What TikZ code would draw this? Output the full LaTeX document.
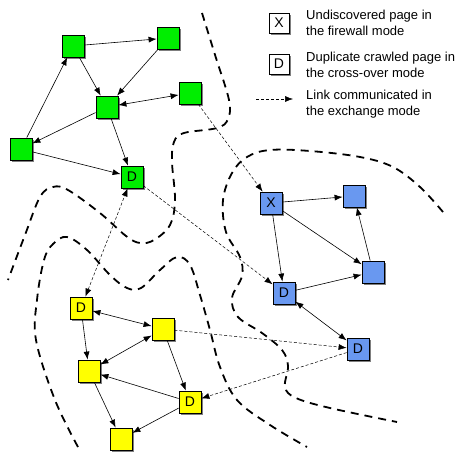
\documentclass[tikz,border=0pt]{standalone}
\usepackage{fontspec}
\setmainfont{Liberation Sans}
\usetikzlibrary{arrows.meta,shadows}
\definecolor{pgreen}{RGB}{0,238,0}
\definecolor{pblue}{RGB}{105,152,240}
\definecolor{pyellow}{RGB}{255,255,0}
\tikzset{
  page/.style={draw=black, line width=0.8pt, minimum size=22pt, inner sep=0pt,
    font=\fontsize{14}{14}\selectfont,
    drop shadow={shadow xshift=1.8pt, shadow yshift=-2pt, opacity=0.5, fill=black}},
  gpage/.style={page, fill=pgreen},
  bpage/.style={page, fill=pblue},
  ypage/.style={page, fill=pyellow},
  lpage/.style={page, fill=white, minimum size=20pt},
  link/.style={line width=0.6pt, -{Latex[length=8pt,width=6pt]}},
  blink/.style={line width=0.6pt, {Latex[length=8pt,width=6pt]}-{Latex[length=8pt,width=6pt]}},
  xlink/.style={line width=0.5pt, dash pattern=on 3pt off 2pt, -{Latex[length=8pt,width=6pt]}},
  bxlink/.style={xlink, {Latex[length=8pt,width=6pt]}-{Latex[length=8pt,width=6pt]}},
  border/.style={line width=1.8pt, dash pattern=on 8pt off 6pt},
  legend/.style={anchor=west, align=left, inner sep=0pt,
    font=\fontsize{13}{16.5}\selectfont}
}
\begin{document}
\begin{tikzpicture}[x=1pt,y=-1pt]
\useasboundingbox (0,0) rectangle (474,452);

% partition borders between the crawlers
\draw[border] plot[smooth, tension=0.6] coordinates {
  (202,13) (216,58) (229,100) (228,119) (217,128) (184,133) (174,142)
  (172,162) (175,200) (170,225) (154,240) (140,243) (126,236) (100,213)
  (68,190) (53,187) (40,197) (25,235) (8,280)};
\draw[border] plot[smooth, tension=0.6] coordinates {
  (443,212) (420,187) (393,167) (360,157) (310,151) (270,150) (247,157)
  (232,173) (223,200) (226,232) (240,257) (242,276) (232,298) (238,317)
  (262,333) (282,350) (288,366) (285,387) (296,398) (330,408) (397,422)};
\draw[border] plot[smooth, tension=0.6] coordinates {
  (78,447) (55,400) (36,340) (37,300) (44,260) (53,244) (67,237) (87,250)
  (110,275) (127,288) (141,288) (160,270) (177,257) (190,265) (200,295)
  (210,330) (220,367) (237,400) (270,425) (307,447)};

% green partition
\node[gpage] (g1) at (73,46) {};
\node[gpage] (g2) at (168,38) {};
\node[gpage] (g3) at (107,107) {};
\node[gpage] (g4) at (190,93) {};
\node[gpage] (g5) at (21,149) {};
\node[gpage] (g6) at (132,177) {D};

% blue partition
\node[bpage] (bx) at (271,203) {X};
\node[bpage] (b2) at (354,196) {};
\node[bpage] (b3) at (373,272) {};
\node[bpage] (bd) at (284,293) {D};
\node[bpage] (bd2) at (358,349) {D};

% yellow partition
\node[ypage] (yd) at (81,308) {D};
\node[ypage] (y2) at (163,329) {};
\node[ypage] (y3) at (89,371) {};
\node[ypage] (yd2) at (190,402) {D};
\node[ypage] (y5) at (121,439) {};

% links exchanged between crawlers
\draw[xlink] (g4) -- (bx);
\draw[xlink] (g6) -- (bd);
\draw[bxlink] (yd) -- (g6);
\draw[xlink] (y2) -- (bd2);
\draw[xlink] (bd2) -- (yd2);

% links inside the green partition
\draw[link] (g1) -- (g2);
\draw[link] (g2) -- (g3);
\draw[link] (g1) -- (g3);
\draw[blink] (g3) -- (g4);
\draw[link] (g5) -- (g1);
\draw[link] (g3) -- (g5);
\draw[link] (g5) -- (g6);
\draw[link] (g3) -- (g6);

% links inside the blue partition
\draw[link] (bx) -- (b2);
\draw[link] (bx) -- (b3);
\draw[link] (bx) -- (bd);
\draw[link] (bd) -- (b3);
\draw[link] (b3) -- (b2);
\draw[blink] (bd) -- (bd2);

% links inside the yellow partition
\draw[blink] (yd) -- (y2);
\draw[link] (yd) -- (y3);
\draw[blink] (y2) -- (y3);
\draw[link] (y2) -- (yd2);
\draw[link] (yd2) -- (y3);
\draw[link] (y3) -- (y5);
\draw[link] (yd2) -- (y5);

% legend
\node[lpage] (lx) at (279,23) {X};
\node[legend] (tx) at (306,23) {Undiscovered page in\\the firewall mode};
\node[lpage] (ld) at (279,64) {D};
\node[legend] (td) at (306,65) {Duplicate crawled page in\\the cross-over mode};
\coordinate (la) at (256,99);
\coordinate (lb) at (293,99);
\draw[xlink] (la) -- (lb);
\node[legend] (tl) at (306,104) {Link communicated in\\the exchange mode};
\end{tikzpicture}
\end{document}
